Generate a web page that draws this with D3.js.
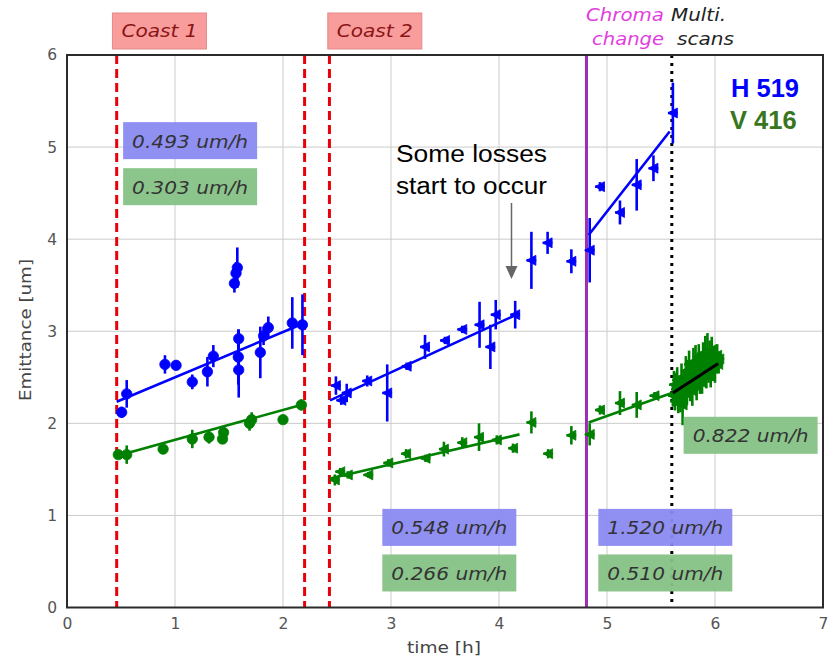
<!DOCTYPE html>
<html>
<head>
<meta charset="utf-8">
<script src="https://cdn.jsdelivr.net/npm/d3@7"></script>
<style>
  body { margin: 0; background: #fff; }
  svg { display: block; }
</style>
</head>
<body>
<div id="chart"></div>
<script>
// ---- data (time [h], emittance [um], half error) ----
// coast 1 (circles)
var hC1T   = [0.506, 0.553, 0.907, 1.01, 1.16, 1.30, 1.355, 1.55, 1.565, 1.577, 1.59, 1.586, 1.59, 1.79, 1.82, 1.864, 2.086, 2.18];
var hC1    = [2.12, 2.32, 2.64, 2.63, 2.45, 2.56, 2.73, 3.52, 3.63, 3.69, 2.92, 2.72, 2.58, 2.77, 2.95, 3.04, 3.09, 3.07];
var hC1Err = [0.06, 0.15, 0.10, 0.05, 0.08, 0.16, 0.12, 0.10, 0.12, 0.22, 0.10, 0.30, 0.30, 0.28, 0.10, 0.12, 0.28, 0.33];
var vC1T   = [0.475, 0.553, 0.89, 1.16, 1.315, 1.44, 1.45, 1.69, 1.71, 2.0, 2.17];
var vC1    = [1.66, 1.66, 1.72, 1.83, 1.85, 1.83, 1.90, 2.00, 2.04, 2.04, 2.20];
var vC1Err = [0.03, 0.10, 0.04, 0.10, 0.07, 0.05, 0.06, 0.08, 0.08, 0.04, 0.06];

// coast 2 (triangles)
var hC2T   = [2.49, 2.54, 2.59, 2.78, 2.965, 3.145, 3.315, 3.50, 3.66, 3.82, 3.92, 3.97, 4.15, 4.30, 4.45, 4.67, 4.84];
var hC2    = [2.41, 2.25, 2.33, 2.46, 2.33, 2.62, 2.83, 2.90, 3.02, 3.07, 2.83, 3.18, 3.18, 3.77, 3.96, 3.76, 3.88];
var hC2Err = [0.10, 0.05, 0.10, 0.06, 0.31, 0.04, 0.13, 0.04, 0.04, 0.25, 0.24, 0.16, 0.15, 0.31, 0.12, 0.13, 0.35];
var vC2T   = [2.48, 2.53, 2.60, 2.79, 2.975, 3.14, 3.32, 3.49, 3.66, 3.815, 3.98, 4.13, 4.30, 4.455, 4.67, 4.84];
var vC2    = [1.385, 1.475, 1.44, 1.44, 1.57, 1.67, 1.62, 1.72, 1.79, 1.85, 1.82, 1.73, 2.01, 1.67, 1.87, 1.88];
var vC2Err = [0.06, 0.04, 0.04, 0.03, 0.04, 0.05, 0.04, 0.08, 0.06, 0.15, 0.05, 0.05, 0.12, 0.05, 0.10, 0.12];

// after chroma change
var hC3T   = [4.935, 5.12, 5.275, 5.43, 5.61];
var hC3    = [4.57, 4.29, 4.59, 4.77, 5.37];
var hC3Err = [0.05, 0.13, 0.28, 0.14, 0.33];
var vC3T   = [4.935, 5.12, 5.275, 5.44];
var vC3    = [2.145, 2.22, 2.20, 2.30];
var vC3Err = [0.05, 0.13, 0.14, 0.04];

// multi scans (vertical plane)
var vScanT   = [5.61, 5.62, 5.63, 5.64, 5.65, 5.66, 5.67, 5.68, 5.69, 5.70, 5.71, 5.72, 5.73, 5.74, 5.75, 5.76, 5.77, 5.78, 5.79, 5.80, 5.81, 5.82,
                5.83, 5.84, 5.85, 5.86, 5.87, 5.88, 5.89, 5.90, 5.91, 5.92, 5.93, 5.94, 5.95, 5.96, 5.97, 5.98, 5.99, 6.00, 6.01, 6.02, 6.03, 6.04];
var vScan    = [2.30, 2.42, 2.24, 2.37, 2.47, 2.27, 2.40, 2.32, 2.50, 2.20, 2.44, 2.38, 2.57, 2.32, 2.49, 2.64, 2.42, 2.54, 2.35, 2.60, 2.47, 2.68,
                2.40, 2.57, 2.72, 2.50, 2.62, 2.44, 2.68, 2.57, 2.77, 2.52, 2.74, 2.60, 2.70, 2.54, 2.80, 2.64, 2.72, 2.60, 2.68, 2.74, 2.64, 2.70];
var vScanErr = [0.12, 0.15, 0.10, 0.18, 0.14, 0.16, 0.12, 0.20, 0.15, 0.22, 0.14, 0.18, 0.16, 0.12, 0.20, 0.15, 0.18, 0.14, 0.16, 0.22, 0.13, 0.17,
                0.15, 0.20, 0.14, 0.18, 0.16, 0.12, 0.20, 0.15, 0.18, 0.14, 0.24, 0.16, 0.20, 0.15, 0.14, 0.18, 0.12, 0.16, 0.14, 0.12, 0.10, 0.08];

// linear fits: [t0, e0, t1, e1]
var fitsH = [[0.46, 2.235, 2.20, 3.09], [2.435, 2.25, 4.19, 3.195], [4.83, 4.045, 5.58, 5.17]];
var fitsV = [[0.46, 1.645, 2.20, 2.21], [2.435, 1.40, 4.19, 1.88], [4.83, 2.01, 5.60, 2.33]];
var fitScan = [5.61, 2.33, 6.03, 2.65];

// event lines
var coastLines = [0.46, 2.20, 2.43];
var chromaT = 4.81;
var scanT = 5.60;

// rate labels: [text, t, e, kind]
var rateLabels = [
  ["0.493 um/h", 1.14, 5.07, "h"], ["0.303 um/h", 1.14, 4.57, "v"],
  ["0.548 um/h", 3.54, 0.87, "h"], ["0.266 um/h", 3.54, 0.375, "v"],
  ["1.520 um/h", 5.54, 0.87, "h"], ["0.510 um/h", 5.54, 0.375, "v"],
  ["0.822 um/h", 6.33, 1.87, "v"]
];
var coastLabels = [["Coast 1", 0.856], ["Coast 2", 2.85]];

var xTicks = [0, 1, 2, 3, 4, 5, 6, 7];
var yTicks = [0, 1, 2, 3, 4, 5, 6];

// ---- drawing ----
var W = 833, H = 658;
var blue = "#0000ff", green = "#008000";
var x = d3.scaleLinear().domain([0, 7]).range([67, 823]);
var y = d3.scaleLinear().domain([0, 6]).range([607.5, 55]);

var svg = d3.select("#chart").append("svg").attr("width", W).attr("height", H);

// grid
svg.append("g").selectAll("line.gx").data(xTicks.slice(1, -1)).enter().append("line")
  .attr("x1", d => x(d)).attr("x2", d => x(d)).attr("y1", y(0)).attr("y2", y(6))
  .style("stroke", "#cbcbcb").style("stroke-width", 1);
svg.append("g").selectAll("line.gy").data(yTicks.slice(1, -1)).enter().append("line")
  .attr("x1", x(0)).attr("x2", x(7)).attr("y1", d => y(d)).attr("y2", d => y(d))
  .style("stroke", "#cbcbcb").style("stroke-width", 1);

// axes (labels only)
var xAxis = svg.append("g").attr("transform", "translate(0," + y(0) + ")")
  .call(d3.axisBottom(x).tickValues(xTicks).tickFormat(d3.format("d")).tickSize(0).tickPadding(10));
var yAxis = svg.append("g").attr("transform", "translate(" + x(0) + ",0)")
  .call(d3.axisLeft(y).tickValues(yTicks).tickFormat(d3.format("d")).tickSize(0).tickPadding(10));
[xAxis, yAxis].forEach(function(a) {
  a.select(".domain").remove();
  a.selectAll("text").style("font-family", "DejaVu Sans").style("font-size", "15.5px").style("fill", "#555");
});

svg.append("text").attr("x", 444).attr("y", 653).attr("text-anchor", "middle")
  .attr("textLength", 74).attr("lengthAdjust", "spacingAndGlyphs")
  .style("font-family", "DejaVu Sans").style("font-size", "16px").style("fill", "#444").text("time [h]");
svg.append("text").attr("transform", "translate(31,330) rotate(-90)").attr("text-anchor", "middle")
  .attr("textLength", 142).attr("lengthAdjust", "spacingAndGlyphs")
  .style("font-family", "DejaVu Sans").style("font-size", "16px").style("fill", "#444").text("Emittance [um]");

// event lines
svg.selectAll("line.coast").data(coastLines).enter().append("line")
  .attr("x1", d => x(d)).attr("x2", d => x(d)).attr("y1", y(6)).attr("y2", y(0))
  .style("stroke", "#e8000b").style("stroke-width", 3).style("stroke-dasharray", "9,5");
svg.append("line").attr("x1", x(chromaT)).attr("x2", x(chromaT)).attr("y1", y(6)).attr("y2", y(0))
  .style("stroke", "#9a2fb4").style("stroke-width", 3);
svg.append("line").attr("x1", x(scanT)).attr("x2", x(scanT)).attr("y1", y(6)).attr("y2", y(0))
  .style("stroke", "#000").style("stroke-width", 3).style("stroke-dasharray", "3,5");

// data helpers
function zip(ts, es, errs) {
  return ts.map(function(t, i) { return { t: t, e: es[i], err: errs[i] }; });
}
function errBars(data, color, hx) {
  var g = svg.append("g");
  g.selectAll("line.ev").data(data).enter().append("line")
    .attr("x1", d => x(d.t)).attr("x2", d => x(d.t))
    .attr("y1", d => y(d.e - d.err)).attr("y2", d => y(d.e + d.err))
    .style("stroke", color).style("stroke-width", 2.6);
  if (hx) {
    g.selectAll("line.eh").data(data).enter().append("line")
      .attr("x1", d => x(d.t - hx)).attr("x2", d => x(d.t + hx))
      .attr("y1", d => y(d.e)).attr("y2", d => y(d.e))
      .style("stroke", color).style("stroke-width", 2.6);
  }
}
function circles(data, color) {
  errBars(data, color, 0);
  svg.append("g").selectAll("circle").data(data).enter().append("circle")
    .attr("cx", d => x(d.t)).attr("cy", d => y(d.e)).attr("r", 5.2)
    .style("fill", color).style("stroke", color).style("stroke-width", 0.8);
}
function triangles(data, color) {
  errBars(data, color, 0.045);
  svg.append("g").selectAll("path").data(data).enter().append("path")
    .attr("d", function(d) {
      var cx = x(d.t), cy = y(d.e);
      return "M" + (cx - 5) + "," + cy + "L" + (cx + 4.5) + "," + (cy - 5) + "L" + (cx + 4.5) + "," + (cy + 5) + "Z";
    })
    .style("fill", color).style("stroke", color).style("stroke-width", 0.8);
}
function fit(f, color, w) {
  svg.append("line").attr("x1", x(f[0])).attr("y1", y(f[1])).attr("x2", x(f[2])).attr("y2", y(f[3]))
    .style("stroke", color).style("stroke-width", w);
}

circles(zip(hC1T, hC1, hC1Err), blue);
circles(zip(vC1T, vC1, vC1Err), green);
triangles(zip(hC2T, hC2, hC2Err), blue);
triangles(zip(vC2T, vC2, vC2Err), green);
triangles(zip(hC3T, hC3, hC3Err), blue);
triangles(zip(vC3T, vC3, vC3Err), green);
triangles(zip(vScanT, vScan, vScanErr), green);

fitsH.forEach(f => fit(f, blue, 2.6));
fitsV.forEach(f => fit(f, green, 2.6));
fit(fitScan, "#000", 3);

// frame
svg.append("rect").attr("x", x(0)).attr("y", y(6)).attr("width", x(7) - x(0)).attr("height", y(0) - y(6))
  .style("fill", "none").style("stroke", "#2b2b2b").style("stroke-width", 2);

// rate label boxes
var boxFill = { h: "#8a8af2", v: "#86c286" };
var rl = svg.append("g").selectAll("g").data(rateLabels).enter().append("g")
  .attr("transform", d => "translate(" + x(d[1]) + "," + y(d[2]) + ")");
rl.append("rect").attr("x", -67).attr("y", -18.5).attr("width", 134).attr("height", 37)
  .style("fill", d => boxFill[d[3]]).style("opacity", 0.95);
rl.append("text").attr("text-anchor", "middle").attr("y", 7)
  .attr("textLength", 116).attr("lengthAdjust", "spacingAndGlyphs")
  .style("font-family", "DejaVu Sans").style("font-style", "italic").style("font-size", "18px")
  .style("fill", "#333").text(d => d[0]);

// coast labels above the axes
var cl = svg.append("g").selectAll("g").data(coastLabels).enter().append("g")
  .attr("transform", d => "translate(" + x(d[1]) + ",31)");
cl.append("rect").attr("x", -47).attr("y", -18).attr("width", 94).attr("height", 36)
  .style("fill", "#f89c9c").style("stroke", "#e48a8a").style("stroke-width", 1);
cl.append("text").attr("text-anchor", "middle").attr("y", 5.5)
  .attr("textLength", 76).attr("lengthAdjust", "spacingAndGlyphs")
  .style("font-family", "DejaVu Sans").style("font-style", "italic").style("font-size", "18px")
  .style("fill", "#8a1414").text(d => d[0]);

// chroma / multi scan notes
function note(txt, xr, yb, len, color, anchor) {
  svg.append("text").attr("x", xr).attr("y", yb).attr("text-anchor", anchor)
    .attr("textLength", len).attr("lengthAdjust", "spacingAndGlyphs")
    .style("font-family", "DejaVu Sans").style("font-style", "italic").style("font-size", "17px")
    .style("fill", color).text(txt);
}
note("Chroma", 664, 21, 78, "#e23de0", "end");
note("change", 664, 45, 72, "#e23de0", "end");
note("Multi.", 671, 21, 55, "#222", "start");
note("scans", 677, 45, 57, "#222", "start");

// plane labels
svg.append("text").attr("x", 731).attr("y", 97).style("font-family", "Liberation Sans").style("font-weight", "bold")
  .style("font-size", "25.5px").style("fill", "#0000ff").text("H 519");
svg.append("text").attr("x", 730).attr("y", 128.5).style("font-family", "Liberation Sans").style("font-weight", "bold")
  .style("font-size", "25.5px").style("fill", "#38761d").text("V 416");

// losses note with arrow
svg.append("text").attr("x", 396).attr("y", 162).attr("textLength", 151).attr("lengthAdjust", "spacingAndGlyphs")
  .style("font-family", "Liberation Sans").style("font-size", "23px").style("fill", "#000").text("Some losses");
svg.append("text").attr("x", 396).attr("y", 193.5).attr("textLength", 151).attr("lengthAdjust", "spacingAndGlyphs")
  .style("font-family", "Liberation Sans").style("font-size", "23px").style("fill", "#000").text("start to occur");
svg.append("line").attr("x1", 511.5).attr("x2", 511.5).attr("y1", 203).attr("y2", 268)
  .style("stroke", "#666").style("stroke-width", 1.5);
svg.append("path").attr("d", "M505.5,266L517.5,266L511.5,279Z").style("fill", "#666");
</script>
</body>
</html>
